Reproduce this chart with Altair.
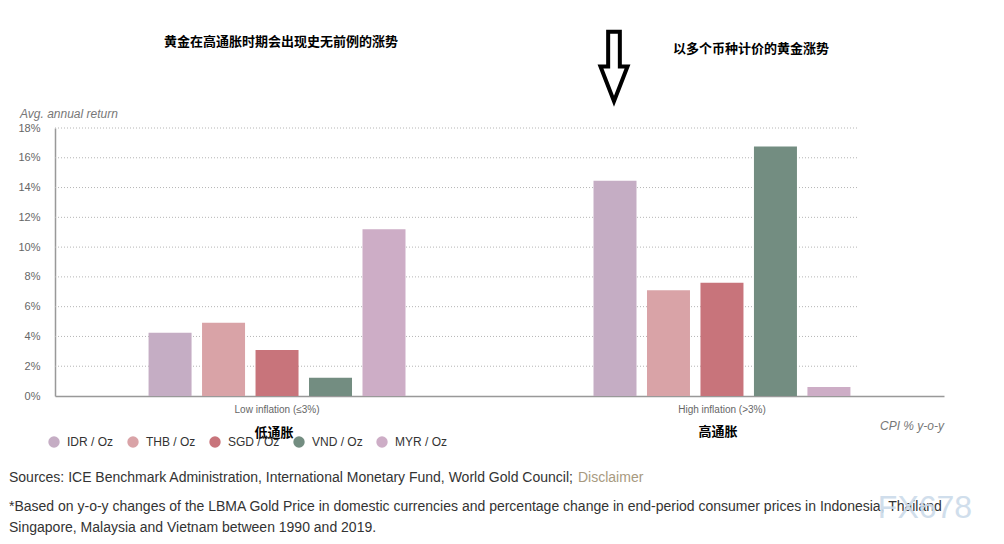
import altair as alt
import pandas as pd

groups = ["Low inflation (≤3%)", "High inflation (>3%)"]
series = ["IDR / Oz", "THB / Oz", "SGD / Oz", "VND / Oz", "MYR / Oz"]
colors = ["#c5adc4", "#d9a3a7", "#c8747b", "#738d81", "#cdadc6"]
low_vals = [4.25, 4.92, 3.09, 1.23, 11.2]
high_vals = [14.45, 7.1, 7.6, 16.75, 0.6]
grid_vals = [2, 4, 6, 8, 10, 12, 14, 16, 18]
tick_vals = [0, 2, 4, 6, 8, 10, 12, 14, 16, 18]

rows = []
for s, v in zip(series, low_vals):
    rows.append({"group": groups[0], "series": s, "value": v})
for s, v in zip(series, high_vals):
    rows.append({"group": groups[1], "series": s, "value": v})
df = pd.DataFrame(rows)

W, H = 889, 268
yscale = alt.Scale(domain=[0, 18])
yaxis = alt.Axis(values=tick_vals, labelOverlap=False, tickCount=10,
                 labelExpr="datum.value + '%'", labelFontSize=11,
                 labelColor="#666", labelFont="Liberation Sans",
                 labelPadding=15, tickSize=0, grid=False,
                 domainColor="#999", domainWidth=1.5)

grid = alt.Chart(pd.DataFrame({"v": grid_vals})).mark_rule(
    color="#b5b5b5", strokeDash=[1, 2], strokeWidth=1
).encode(
    y=alt.Y("v:Q", scale=yscale, title=None, axis=yaxis),
    x=alt.value(0), x2=alt.value(803),
)

bars = alt.Chart(df).mark_bar().encode(
    x=alt.X("group:N", sort=groups, title=None,
            scale=alt.Scale(paddingInner=0.399, paddingOuter=0.1985),
            axis=alt.Axis(labelAngle=0, labelFontSize=10, labelColor="#666",
                          labelFont="Liberation Sans", labelPadding=8,
                          tickSize=0, domainColor="#999", domainWidth=1.5)),
    xOffset=alt.XOffset("series:N", sort=series,
                        scale=alt.Scale(paddingInner=0.196, paddingOuter=0.098)),
    y=alt.Y("value:Q", scale=yscale, title=None, axis=yaxis),
    color=alt.Color("series:N", sort=series,
                    scale=alt.Scale(domain=series, range=colors),
                    legend=alt.Legend(title=None, orient="none", legendX=-7, legendY=308,
                                      direction="horizontal", symbolType="circle",
                                      symbolSize=130, symbolStrokeWidth=0,
                                      symbolOpacity=1, labelFontSize=12,
                                      labelColor="#333", labelFont="Liberation Sans",
                                      labelOffset=7, columnPadding=13, padding=0)),
)


def label(txt, x, y, **kw):
    return alt.Chart(pd.DataFrame({"t": [txt]})).mark_text(**kw).encode(
        x=alt.value(x), y=alt.value(y), text="t:N")


cjk = "Noto Sans CJK SC"
ann = [
    label("Avg. annual return", -35, -14, align="left", baseline="middle",
          fontSize=12, fontStyle="italic", color="#777", font="Liberation Sans"),
    label("CPI % y-o-y", 889, 298, align="right", baseline="middle",
          fontSize=12, fontStyle="italic", color="#777", font="Liberation Sans"),
    label("黄金在高通胀时期会出现史无前例的涨势", 226, -86, align="center",
          baseline="middle", fontSize=13, fontWeight="bold", font=cjk, color="#000"),
    label("以多个币种计价的黄金涨势", 696, -79, align="center",
          baseline="middle", fontSize=13, fontWeight="bold", font=cjk, color="#000"),
    label("低通胀", 219, 305, align="center", baseline="middle", fontSize=13,
          fontWeight="bold", font=cjk, color="#000"),
    label("高通胀", 663, 304, align="center", baseline="middle", fontSize=13,
          fontWeight="bold", font=cjk, color="#000"),
    label("Sources: ICE Benchmark Administration, International Monetary Fund, World Gold Council;",
          -46, 350, align="left", baseline="middle", fontSize=14, color="#333",
          font="Liberation Sans"),
    label("Disclaimer", 523, 350, align="left", baseline="middle", fontSize=14,
          color="#a89a80", font="Liberation Sans"),
    label("*Based on y-o-y changes of the LBMA Gold Price in domestic currencies and percentage change in end-period consumer prices in Indonesia, Thailand",
          -46, 379, align="left", baseline="middle", fontSize=14, color="#333",
          font="Liberation Sans"),
    label("Singapore, Malaysia and Vietnam between 1990 and 2019.",
          -46, 400, align="left", baseline="middle", fontSize=14, color="#333",
          font="Liberation Sans"),
]

arrow_path = "M -0.16 -0.95 L 0.16 -0.95 L 0.16 0 L 0.37 0 L 0 0.95 L -0.37 0 L -0.16 0 Z"
arrow = alt.Chart(pd.DataFrame({"a": [1]})).mark_point(
    shape=arrow_path, filled=False, stroke="#000", strokeWidth=4, opacity=1, size=5329
).encode(x=alt.value(559), y=alt.value(-61.5))

watermark = label("FX678", 870, 380, align="center", baseline="middle", fontSize=32,
                  color="#ccdbea", font="Liberation Sans", opacity=0.9)

chart = alt.layer(grid, bars, *ann, arrow, watermark).properties(
    width=W, height=H,
    padding={"left": 47, "top": 120, "right": 52, "bottom": 140},
    autosize=alt.AutoSizeParams(type="none"),
).configure_view(stroke=None)

chart.save("out.html", embed_options={"renderer": "svg", "actions": False})
